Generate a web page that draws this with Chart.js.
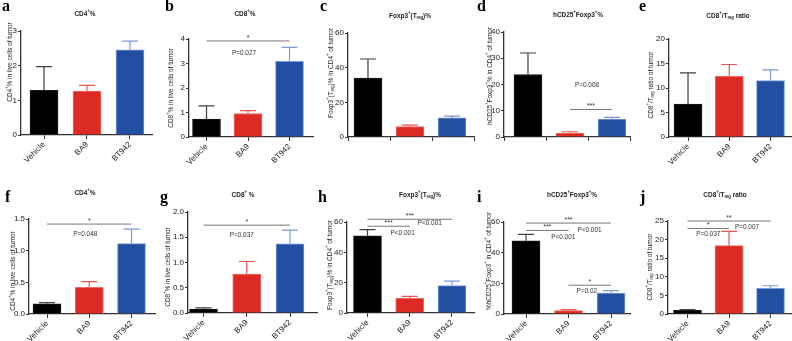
<!DOCTYPE html>
<html>
<head>
<meta charset="utf-8">
<script src="https://cdn.jsdelivr.net/npm/chart.js@4.4.1/dist/chart.umd.min.js"></script>
<style>
  html, body { margin: 0; padding: 0; background: #fff; }
  #wrap { position: relative; width: 792px; height: 341px; overflow: hidden; }
  #wrap canvas { position: absolute; left: 0; top: 0; }
</style>
</head>
<body>
<div id="wrap"></div>
<script>
const groups = ["Vehicle", "BA9", "BT942"];

// top row (a-e)
const cd4LiveA = [1.29, 1.27, 2.46];
const cd4LiveAErr = [0.68, 0.16, 0.25];
const cd8LiveA = [0.73, 0.96, 3.09];
const cd8LiveAErr = [0.54, 0.12, 0.57];
const tregA = [34, 6.0, 11.0];
const tregAErr = [11, 0.9, 1.1];
const hcd25A = [23.8, 1.5, 6.8];
const hcd25AErr = [8.2, 0.5, 0.7];
const ratioA = [6.7, 12.4, 11.5];
const ratioAErr = [6.4, 2.4, 2.2];

// bottom row (f-j)
const cd4LiveB = [0.16, 0.42, 1.11];
const cd4LiveBErr = [0.02, 0.09, 0.23];
const cd8LiveB = [0.08, 0.77, 1.37];
const cd8LiveBErr = [0.02, 0.25, 0.27];
const tregB = [50.9, 9.6, 18.1];
const tregBErr = [4.1, 1.3, 2.9];
const hcd25B = [47.7, 2.2, 13.6];
const hcd25BErr = [4.2, 0.6, 1.7];
const ratioB = [1.0, 18.4, 6.9];
const ratioBErr = [0.2, 3.8, 0.7];

const W = 792, H = 341;
const FAM = "'Liberation Sans Narrow', 'Liberation Sans', Arial, sans-serif";
const barFill = ["#000000", "#dd2a24", "#234fa3"];
const barEdge = ["#1a1a1a", "#ee6c63", "#7c9ad8"];
const errColor = ["#404040", "#e8584f", "#7c9ad8"];

const panels = [
  { letter: "a", values: cd4LiveA, errors: cd4LiveAErr, yMax: 3, yStep: 1, dec: 0,
    title: "CD4^{+}%", yLabel: "CD4^{+}% in live cells of tumor",
    box: { left: 21, right: 152, top: 31, bottom: 135 }, xRange: [-0.535, 2.512],
    letterAt: [2, 11], titleAt: [85, 14], yLabelAt: [10, 62], sig: [] },
  { letter: "b", values: cd8LiveA, errors: cd8LiveAErr, yMax: 4, yStep: 1, dec: 0,
    title: "CD8^{+}%", yLabel: "CD8^{+}% in live cells of tumor",
    box: { left: 189, right: 313, top: 39, bottom: 137 }, xRange: [-0.422, 2.566],
    letterAt: [165, 11], titleAt: [245, 14], yLabelAt: [171, 88],
    sig: [{ from: 0, to: 2, y: 3.92, stars: "*", p: "P=0.027", dx: -4, dy: 12 }] },
  { letter: "c", values: tregA, errors: tregAErr, yMax: 60, yStep: 20, dec: 0,
    title: "Foxp3^{+}(T_{reg})%", yLabel: "Foxp3^{+}(T_{reg})% in CD4^{+} of tumor",
    box: { left: 348, right: 474, top: 33, bottom: 137 }, xRange: [-0.476, 2.524],
    letterAt: [320, 11], titleAt: [410, 16], yLabelAt: [331, 73], sig: [] },
  { letter: "d", values: hcd25A, errors: hcd25AErr, yMax: 40, yStep: 10, dec: 0,
    title: "hCD25^{+}Foxp3^{+}%", yLabel: "hCD25^{+}Foxp3^{+}% in CD4^{+} of tumor",
    box: { left: 504, right: 630, top: 32, bottom: 137 }, xRange: [-0.571, 2.429],
    letterAt: [477, 11], titleAt: [578, 15], yLabelAt: [490, 76],
    sig: [{ from: 1, to: 2, y: 10.5, stars: "***", p: "P=0.008", dx: -4, dy: -25 }] },
  { letter: "e", values: ratioA, errors: ratioAErr, yMax: 20, yStep: 5, dec: 0,
    title: "CD8^{+}/T_{reg} ratio", yLabel: "CD8^{+}/T_{reg} ratio of tumor",
    box: { left: 669, right: 792, top: 39, bottom: 137 }, xRange: [-0.461, 2.521],
    letterAt: [639, 11], titleAt: [728, 16], yLabelAt: [651, 85], sig: [] },
  { letter: "f", values: cd4LiveB, errors: cd4LiveBErr, yMax: 1.5, yStep: 0.5, dec: 1,
    title: "CD4^{+}%", yLabel: "CD4^{+}% in live cells of tumor",
    box: { left: 29, right: 155, top: 219, bottom: 314 }, xRange: [-0.426, 2.556],
    letterAt: [5, 202], titleAt: [85, 193], yLabelAt: [13, 271],
    sig: [{ from: 0, to: 2, y: 1.42, stars: "*", p: "P=0.048", dx: -4, dy: 10 }] },
  { letter: "g", values: cd8LiveB, errors: cd8LiveBErr, yMax: 2, yStep: 0.5, dec: 1,
    title: "CD8^{+} %", yLabel: "CD8^{+}% in live cells of tumor",
    box: { left: 188, right: 317, top: 212, bottom: 313 }, xRange: [-0.358, 2.624],
    letterAt: [160, 202], titleAt: [243, 195], yLabelAt: [168, 267],
    sig: [{ from: 0, to: 2, y: 1.74, stars: "*", p: "P=0.037", dx: -5, dy: 10 }] },
  { letter: "h", values: tregB, errors: tregBErr, yMax: 60, yStep: 20, dec: 0,
    title: "Foxp3^{+}(T_{reg})%", yLabel: "Foxp3^{+}(T_{reg})% in CD4^{+} of tumor",
    box: { left: 347, right: 474, top: 222, bottom: 313 }, xRange: [-0.485, 2.521],
    letterAt: [318, 202], titleAt: [420, 195], yLabelAt: [330, 265],
    sig: [{ from: 0, to: 2, y: 61.8, stars: "***", p: "P<0.001", dx: 20, dy: 4 },
          { from: 0, to: 1, y: 57.2, stars: "***", p: "P<0.001", dx: 14, dy: 7 }] },
  { letter: "i", values: hcd25B, errors: hcd25BErr, yMax: 60, yStep: 20, dec: 0,
    title: "hCD25^{+}Foxp3^{+}%", yLabel: "%hCD25^{+}Foxp3^{+} in CD4^{+} of tumor",
    box: { left: 504, right: 630, top: 222, bottom: 314 }, xRange: [-0.518, 2.447],
    letterAt: [477, 202], titleAt: [572, 195], yLabelAt: [489, 261],
    sig: [{ from: 0, to: 2, y: 59.3, stars: "***", p: "P<0.001", dx: 21, dy: 7 },
          { from: 0, to: 1, y: 54.5, stars: "***", p: "P<0.001", dx: 16, dy: 7 },
          { from: 1, to: 2, y: 18.8, stars: "*", p: "P=0.02", dx: -3, dy: 6 }] },
  { letter: "j", values: ratioB, errors: ratioBErr, yMax: 25, yStep: 5, dec: 0,
    title: "CD8^{+}/T_{reg} ratio", yLabel: "CD8^{+}/T_{reg} ratio of tumor",
    box: { left: 668, right: 792, top: 221, bottom: 314 }, xRange: [-0.47, 2.518],
    letterAt: [640, 202], titleAt: [725, 195], yLabelAt: [650, 267],
    sig: [{ from: 0, to: 2, y: 25.0, stars: "**", p: "P=0.007", dx: 18, dy: 6 },
          { from: 0, to: 1, y: 23.0, stars: "*", p: "P=0.037", dx: 0, dy: 5 }] },
];

// text with ^{sup} and _{sub} pieces, squeezed a little like the condensed original
function drawRich(ctx, text, x, y, size, bold) {
  const weight = bold ? "bold " : "";
  const squeeze = 0.86;
  const pieces = text.split(/(\^\{[^}]*\}|_\{[^}]*\})/).filter((s) => s).map((s) => {
    if (s.startsWith("^{")) return { t: s.slice(2, -1), s: size * 0.65, dy: -size * 0.38 };
    if (s.startsWith("_{")) return { t: s.slice(2, -1), s: size * 0.65, dy: size * 0.25 };
    return { t: s, s: size, dy: 0 };
  });
  let total = 0;
  pieces.forEach((p) => {
    ctx.font = weight + p.s + "px " + FAM;
    p.w = ctx.measureText(p.t).width;
    total += p.w;
  });
  ctx.save();
  ctx.translate(x, y);
  ctx.scale(squeeze, 1);
  let cx = -total / 2;
  ctx.textAlign = "left";
  ctx.textBaseline = "middle";
  pieces.forEach((p) => {
    ctx.font = weight + p.s + "px " + FAM;
    ctx.fillText(p.t, cx, p.dy);
    cx += p.w;
  });
  ctx.restore();
}

function decorations(p) {
  return {
    id: "deco_" + p.letter,
    afterDatasetsDraw(chart) {
      const ctx = chart.ctx;
      const xs = chart.scales.x, ys = chart.scales.y;
      ctx.save();

      // error bars (upper only)
      const meta = chart.getDatasetMeta(0);
      meta.data.forEach((bar, i) => {
        const top = ys.getPixelForValue(p.values[i] + p.errors[i]);
        ctx.strokeStyle = errColor[i];
        ctx.lineWidth = 1.2;
        ctx.beginPath();
        ctx.moveTo(bar.x, bar.y);
        ctx.lineTo(bar.x, top);
        ctx.moveTo(bar.x - 8, top);
        ctx.lineTo(bar.x + 8, top);
        ctx.stroke();
      });

      // significance brackets
      p.sig.forEach((s) => {
        const x1 = xs.getPixelForValue(s.from), x2 = xs.getPixelForValue(s.to);
        const y = ys.getPixelForValue(s.y);
        ctx.strokeStyle = "#777";
        ctx.lineWidth = 1;
        ctx.beginPath();
        ctx.moveTo(x1, y);
        ctx.lineTo(x2, y);
        ctx.stroke();
        ctx.fillStyle = "#333";
        ctx.textAlign = "center";
        ctx.textBaseline = "alphabetic";
        ctx.font = "7px " + FAM;
        ctx.fillText(s.stars, (x1 + x2) / 2, y - 1);
        drawRich(ctx, s.p, (x1 + x2) / 2 + s.dx, y + s.dy, 7.5, false);
      });

      // panel letter, title, y-axis label
      ctx.fillStyle = "#000";
      ctx.textAlign = "left";
      ctx.textBaseline = "alphabetic";
      ctx.font = "bold 16px 'Liberation Serif', 'Times New Roman', serif";
      ctx.fillText(p.letter, p.letterAt[0], p.letterAt[1]);

      ctx.fillStyle = "#222";
      drawRich(ctx, p.title, p.titleAt[0], p.titleAt[1], 7.5, true);

      ctx.translate(p.yLabelAt[0], p.yLabelAt[1]);
      ctx.rotate(-Math.PI / 2);
      drawRich(ctx, p.yLabel, 0, 0, 7.5, false);
      ctx.restore();
    },
  };
}

const axisColor = "#333";
const tickFont = { family: FAM, size: 8 };

panels.forEach((p) => {
  const canvas = document.createElement("canvas");
  canvas.width = W;
  canvas.height = H;
  document.getElementById("wrap").appendChild(canvas);

  new Chart(canvas, {
    type: "bar",
    data: {
      datasets: [{
        data: p.values.map((v, i) => ({ x: i, y: v })),
        backgroundColor: barFill,
        borderColor: barEdge,
        borderWidth: 1,
        barThickness: 28,
      }],
    },
    options: {
      responsive: false,
      animation: false,
      events: [],
      layout: { padding: { left: 0, top: p.box.top, right: W - p.box.right, bottom: 0 } },
      plugins: { legend: { display: false }, tooltip: { enabled: false } },
      scales: {
        x: {
          type: "linear",
          min: p.xRange[0],
          max: p.xRange[1],
          offset: false,
          afterFit: (s) => { s.height = H - p.box.bottom; },
          border: { display: true, color: axisColor, width: 1.3 },
          grid: { display: true, offset: false, drawOnChartArea: false, drawTicks: true, tickLength: 4, color: axisColor },
          ticks: {
            stepSize: 1, includeBounds: false, autoSkip: false,
            minRotation: 45, maxRotation: 45, padding: 1,
            font: tickFont, color: "#222",
            callback: (v) => (Number.isInteger(v) ? groups[v] : ""),
          },
        },
        y: {
          min: 0,
          max: p.yMax,
          afterFit: (s) => { s.width = p.box.left; },
          border: { display: true, color: axisColor, width: 1.3 },
          grid: { display: true, drawOnChartArea: false, drawTicks: true, tickLength: 3, color: axisColor },
          ticks: {
            stepSize: p.yStep, padding: 1, font: tickFont, color: "#222",
            callback: (v) => v.toFixed(p.dec),
          },
        },
      },
    },
    plugins: [decorations(p)],
  });
});
</script>
</body>
</html>
